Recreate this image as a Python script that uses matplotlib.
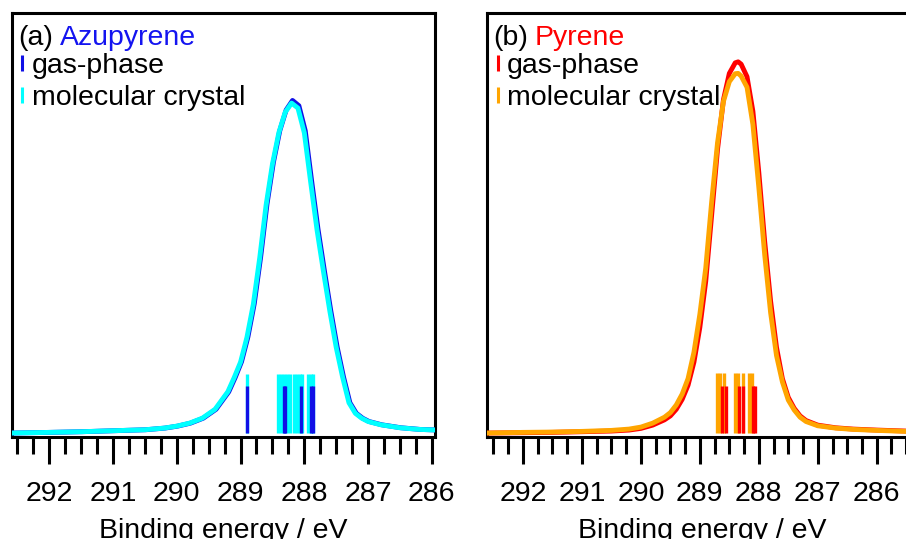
import matplotlib
matplotlib.use("Agg")
import matplotlib.pyplot as plt
from matplotlib.ticker import MultipleLocator
from matplotlib.lines import Line2D

plt.rcParams['font.family'] = ['Liberation Sans', 'DejaVu Sans']

FONT_SIZE = 20.5

# ---- (a) Azupyrene: broadened spectra (binding energy eV, intensity) ----
azu_crystal_x = [292.60, 292.0, 291.5, 291.0, 290.5, 290.2, 290.0, 289.8, 289.6, 289.4,
                 289.2, 289.1, 289.0, 288.9, 288.8, 288.7, 288.6, 288.5, 288.4, 288.3,
                 288.2, 288.1, 288.0, 287.9, 287.8, 287.7, 287.6, 287.5, 287.4, 287.3,
                 287.2, 287.1, 287.0, 286.8, 286.5, 286.2, 285.9]
azu_crystal_y = [0.000, 0.002, 0.004, 0.007, 0.010, 0.015, 0.021, 0.030, 0.045, 0.072,
                 0.125, 0.168, 0.215, 0.290, 0.390, 0.530, 0.690, 0.815, 0.910, 0.972,
                 1.000, 0.985, 0.910, 0.760, 0.615, 0.490, 0.370, 0.260, 0.170, 0.092,
                 0.060, 0.045, 0.035, 0.025, 0.016, 0.011, 0.009]
azu_gas_x = [292.585, 291.985, 291.485, 290.985, 290.485, 290.185, 289.985, 289.785,
             289.585, 289.385, 289.185, 289.085, 288.985, 288.885, 288.785, 288.685,
             288.585, 288.485, 288.385, 288.285, 288.185, 288.085, 287.985, 287.885,
             287.785, 287.685, 287.585, 287.485, 287.385, 287.285, 287.185, 287.085,
             286.985, 286.785, 286.485, 286.185, 285.885]
azu_gas_y = [0.000, 0.002, 0.004, 0.007, 0.010, 0.015, 0.021, 0.030, 0.045, 0.072,
             0.125, 0.168, 0.216, 0.291, 0.392, 0.533, 0.694, 0.820, 0.916, 0.979,
             1.008, 0.992, 0.916, 0.764, 0.618, 0.492, 0.371, 0.261, 0.170, 0.092,
             0.060, 0.045, 0.035, 0.025, 0.016, 0.011, 0.009]

# stick spectra
azu_gas_sticks = [288.897, 288.325, 288.300, 288.055, 287.890, 287.867]
azu_crystal_sticks = [288.893, 288.411, 288.364, 288.317, 288.270, 288.227,
                      288.157, 288.110, 288.063, 288.031, 287.937, 287.890, 287.867]
azu_gas_stick_h = 0.142
azu_crystal_stick_h = 0.179

# ---- (b) Pyrene ----
pyr_x = [292.6, 292.0, 291.5, 291.0, 290.5, 290.2, 290.0, 289.8, 289.6, 289.5,
         289.4, 289.3, 289.2, 289.1, 289.0, 288.9, 288.8, 288.7, 288.6, 288.5,
         288.4, 288.35, 288.3, 288.2, 288.1, 288.0, 287.9, 287.8, 287.7, 287.6,
         287.5, 287.4, 287.3, 287.2, 287.0, 286.7, 286.4, 286.0, 285.5, 285.2]
pyr_crystal_y = [0.000, 0.002, 0.003, 0.005, 0.008, 0.012, 0.018, 0.030, 0.048, 0.062,
                 0.085, 0.118, 0.165, 0.245, 0.360, 0.500, 0.700, 0.880, 1.005, 1.065,
                 1.089, 1.090, 1.082, 1.048, 0.935, 0.745, 0.540, 0.365, 0.235, 0.155,
                 0.100, 0.070, 0.048, 0.035, 0.022, 0.015, 0.011, 0.008, 0.005, 0.004]
pyr_gas_y = [0.000, 0.001, 0.002, 0.004, 0.006, 0.009, 0.014, 0.024, 0.040, 0.052,
             0.072, 0.102, 0.145, 0.215, 0.320, 0.460, 0.660, 0.860, 1.010, 1.090,
             1.122, 1.125, 1.118, 1.080, 0.975, 0.790, 0.580, 0.400, 0.260, 0.165,
             0.108, 0.075, 0.052, 0.038, 0.024, 0.016, 0.012, 0.009, 0.006, 0.005]

pyr_gas_sticks = [288.620, 288.559, 288.344, 288.276, 288.098, 288.064]
pyr_crystal_sticks = [288.712, 288.658, 288.593, 288.412, 288.356, 288.271, 288.166, 288.115]
pyr_gas_stick_h = 0.142
pyr_crystal_stick_h = 0.182

XLABEL = "Binding energy / eV"


def style_axis(ax, xlim):
    ax.set_xlim(*xlim)
    ax.set_ylim(-0.012, 1.273)
    ax.set_yticks([])
    ax.xaxis.set_major_locator(MultipleLocator(1))
    ax.xaxis.set_minor_locator(MultipleLocator(0.25))
    ax.tick_params(axis='x', which='major', direction='out', length=19.5, width=2.2,
                   labelsize=FONT_SIZE, pad=12)
    ax.tick_params(axis='x', which='minor', direction='out', length=12, width=2.2)
    for sp in ax.spines.values():
        sp.set_linewidth(2.2)
    ax.set_xlabel(XLABEL, fontsize=FONT_SIZE, labelpad=8)


def panel(ax, tag, name, name_col, gas_col, cry_col,
          gx, gy, cx, cy, gs, gh, cs, ch, xlim):
    style_axis(ax, xlim)
    ax.vlines(cs, 0, ch, color=cry_col, lw=2.4, zorder=2)
    ax.vlines(gs, 0, gh, color=gas_col, lw=2.4, zorder=3)
    # gas-phase curve underneath, crystal curve on top
    ax.plot(gx, gy, color=gas_col, lw=3.5, zorder=4)
    ax.plot(cx, cy, color=cry_col, lw=3.5, zorder=5)

    t = ax.text(0.0142, 0.9245, tag, transform=ax.transAxes, fontsize=FONT_SIZE,
                va='baseline', ha='left')
    ax.annotate(name, xy=(1, 0), xycoords=t, xytext=(5, 0), textcoords='offset points',
                fontsize=FONT_SIZE, color=name_col, va='bottom', ha='left')

    handles = [Line2D([], [], color=gas_col, lw=0, marker='|', ms=11, mew=2.2),
               Line2D([], [], color=cry_col, lw=0, marker='|', ms=11, mew=2.2)]
    ax.legend(handles, ['gas-phase', 'molecular crystal'], loc='upper left',
              bbox_to_anchor=(0.013, 0.906), frameon=False, fontsize=FONT_SIZE,
              handlelength=0.35, handletextpad=0.15, labelspacing=0.2,
              borderpad=0, borderaxespad=0)


fig = plt.figure(figsize=(9.06, 5.39), dpi=100)
ax_a = fig.add_axes([12 / 906, 102 / 539, 423 / 906, 424 / 539])
ax_b = fig.add_axes([487 / 906, 102 / 539, 431 / 906, 424 / 539])

panel(ax_a, "(a)", "Azupyrene", "#1414F0", "#1010E6", "#00FFFF",
      azu_gas_x, azu_gas_y, azu_crystal_x, azu_crystal_y,
      azu_gas_sticks, azu_gas_stick_h, azu_crystal_sticks, azu_crystal_stick_h,
      (292.585, 285.95))
panel(ax_b, "(b)", "Pyrene", "#FF0000", "#FF0000", "#FFA500",
      pyr_x, pyr_gas_y, pyr_x, pyr_crystal_y,
      pyr_gas_sticks, pyr_gas_stick_h, pyr_crystal_sticks, pyr_crystal_stick_h,
      (292.61, 285.30))

fig.savefig("out.png", dpi=100)
